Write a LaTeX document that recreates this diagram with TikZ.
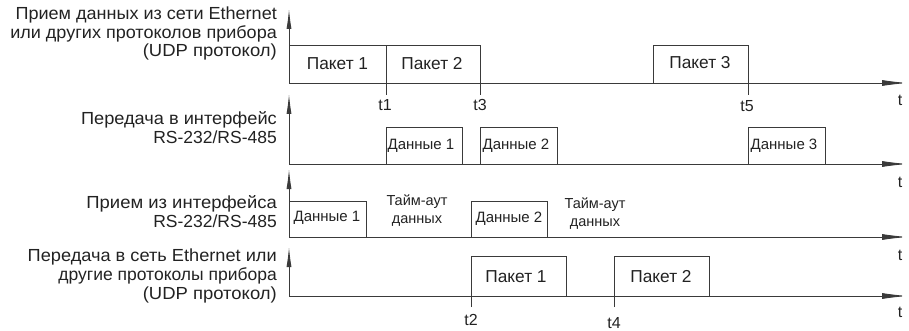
\documentclass[tikz,border=0pt]{standalone}
\usepackage{fontspec}
\usepackage{graphicx}
\setmainfont{Liberation Sans}
\usetikzlibrary{arrows.meta}
\definecolor{ln}{HTML}{3A3A3A}
\definecolor{tx}{HTML}{222222}
\newcommand\lnsc[2]{\scalebox{#1}[1]{#2}}
\tikzset{
  axisline/.style={draw=ln, line width=0.9pt, -{Latex[length=26pt,width=6pt]}},
  vaxis/.style={draw=ln, line width=0.9pt, -{Latex[length=20pt,width=5pt]}},
  pulse/.style={draw=ln, line width=0.8pt},
  lbl/.style={text=tx, font=\fontsize{17.5}{18.7}\selectfont, align=right, anchor=east, inner sep=0pt},
  boxtxt/.style={text=tx, font=\fontsize{17.3}{19}\selectfont, inner sep=0pt},
  smalltxt/.style={text=tx, font=\fontsize{15}{17}\selectfont, inner sep=0pt},
  tlbl/.style={text=tx, font=\fontsize{16}{18}\selectfont, inner sep=0pt},
  tolbl/.style={text=tx, font=\fontsize{14.5}{18}\selectfont, align=center, inner sep=0pt}
}
\begin{document}
\begin{tikzpicture}[x=1pt,y=-1pt]
\useasboundingbox (0,0) rectangle (909,331);
% axes
\coordinate (o1) at (289,83);
\coordinate (o2) at (289,164);
\coordinate (o3) at (289,237);
\coordinate (o4) at (289,296);
\draw[vaxis] (o1) -- (289,9);
\draw[axisline] (o1) -- (908,83);
\draw[vaxis] (o2) -- (289,94);
\draw[axisline] (o2) -- (908,164);
\draw[vaxis] (o3) -- (289,169);
\draw[axisline] (o3) -- (908,237);
\draw[vaxis] (o4) -- (289,247);
\draw[axisline] (o4) -- (908,296);
% row 1 pulses
\draw[pulse] (289,45) -- (386,45) -- (386,95);
\draw[pulse] (386,45) -- (480,45) -- (480,95);
\draw[pulse] (653,83) -- (653,45) -- (748,45) -- (748,95);
\node[boxtxt] (p1) at (337.5,64) {Пакет 1};
\node[boxtxt] (p2) at (432,64) {Пакет 2};
\node[boxtxt] (p3) at (700,63) {Пакет 3};
\node[tlbl] (t1) at (385,105) {t1};
\node[tlbl] (t3) at (480,105) {t3};
\node[tlbl] (t5) at (747,106) {t5};
\node[tlbl] (ta) at (900,100) {t};
% row 2 pulses
\draw[pulse] (386,164) -- (386,127) -- (462,127) -- (462,164);
\draw[pulse] (480,164) -- (480,127) -- (557,127) -- (557,164);
\draw[pulse] (748,164) -- (748,127) -- (825,127) -- (825,164);
\node[smalltxt] (d1) at (421,146) {Данные 1};
\node[smalltxt] (d2) at (516,146) {Данные 2};
\node[smalltxt] (d3) at (784,146) {Данные 3};
\node[tlbl] (tb) at (900,182) {t};
% row 3 pulses
\draw[pulse] (289,201) -- (366,201) -- (366,237);
\draw[pulse] (471,237) -- (471,201) -- (547,201) -- (547,237);
\node[smalltxt] (r1) at (327,218) {Данные 1};
\node[smalltxt] (r2) at (509,219) {Данные 2};
\node[tolbl] (to1) at (417,211) {Тайм-аут\\данных};
\node[tolbl] (to2) at (595,214) {Тайм-аут\\данных};
\node[tlbl] (tc) at (900,255) {t};
% row 4 pulses
\draw[pulse] (471,307) -- (471,256) -- (566,256) -- (566,296);
\draw[pulse] (614,307) -- (614,256) -- (709,256) -- (709,296);
\node[boxtxt] (q1) at (516,277) {Пакет 1};
\node[boxtxt] (q2) at (661,277) {Пакет 2};
\node[tlbl] (t2) at (471,320) {t2};
\node[tlbl] (t4) at (614,323) {t4};
\node[tlbl] (td) at (900,312) {t};
% row labels
\node[lbl] (L1) at (277,33.5) {\lnsc{1.03}{Прием данных из сети Ethernet}\\\lnsc{1.03}{или других протоколов прибора}\\\lnsc{1.055}{(UDP протокол)}};
\node[lbl] (L2) at (277,127.5) {\lnsc{1.04}{Передача в интерфейс}\\RS-232/RS-485};
\node[lbl] (L3) at (277,211.5) {\lnsc{1.055}{Прием из интерфейса}\\RS-232/RS-485};
\node[lbl] (L4) at (277,276) {\lnsc{1.04}{Передача в сеть Ethernet или}\\другие протоколы прибора\\\lnsc{1.055}{(UDP протокол)}};
\end{tikzpicture}
\end{document}
